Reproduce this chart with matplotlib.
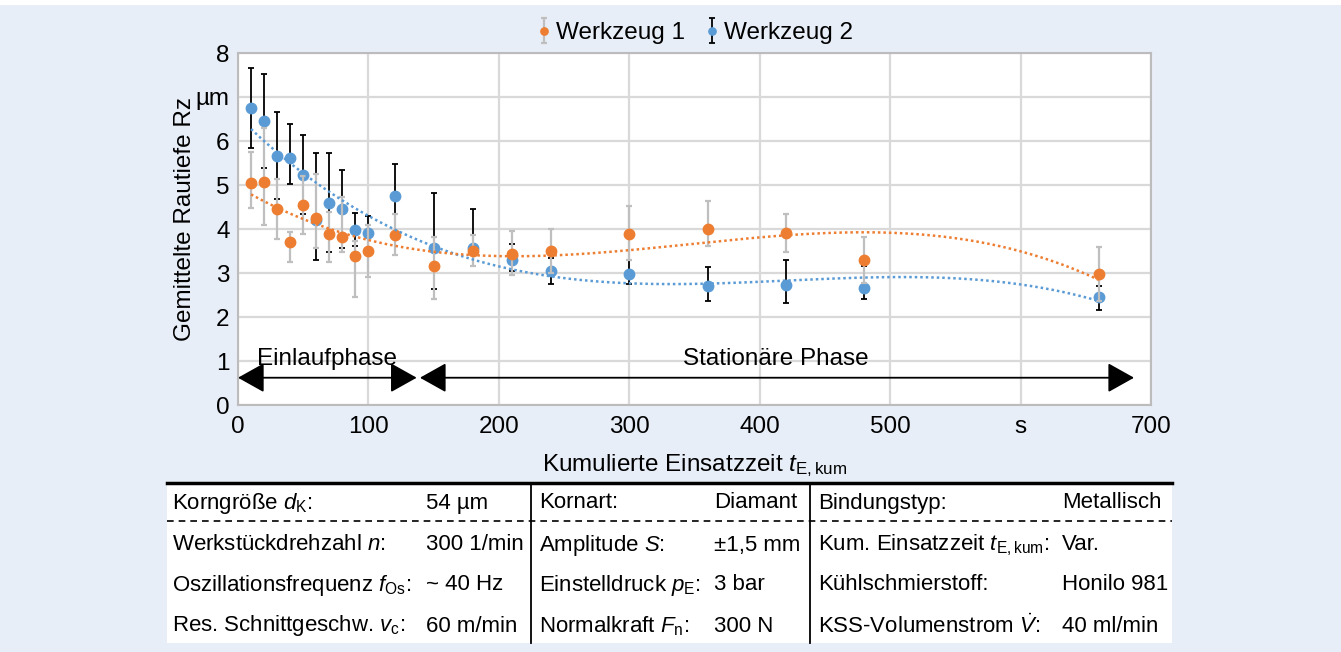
import numpy as np
import matplotlib
matplotlib.use("Agg")
import matplotlib.pyplot as plt
from matplotlib.patches import Rectangle
from matplotlib.lines import Line2D
from matplotlib import font_manager

names = {f.name for f in font_manager.fontManager.ttflist}
NARROW = 'Liberation Sans Narrow' in names
FONT = 'Liberation Sans Narrow' if NARROW else 'Liberation Sans'
SC = 1.0 / 0.82 if NARROW else 1.0

plt.rcParams['font.family'] = [FONT, 'DejaVu Sans']
plt.rcParams['mathtext.fontset'] = 'custom'
plt.rcParams['mathtext.rm'] = FONT
plt.rcParams['mathtext.it'] = FONT + ':italic'
plt.rcParams['mathtext.bf'] = FONT + ':bold'

# ---------------- data ----------------
t_kum = [10, 20, 30, 40, 50, 60, 70, 80, 90, 100, 120, 150, 180, 210, 240, 300, 360, 420, 480, 660]

w1_mean = [5.04, 5.07, 4.46, 3.70, 4.55, 4.24, 3.88, 3.82, 3.39, 3.50, 3.87, 3.17, 3.49, 3.44, 3.50, 3.89, 4.00, 3.92, 3.30, 2.98]
w1_high = [5.75, 6.29, 5.13, 3.94, 5.20, 5.26, 4.38, 4.72, 3.73, 4.08, 4.33, 3.81, 3.86, 3.96, 4.01, 4.52, 4.64, 4.35, 3.82, 3.60]
w1_low  = [4.48, 4.10, 3.77, 3.25, 3.89, 3.56, 3.24, 3.47, 2.45, 2.92, 3.41, 2.42, 3.15, 2.95, 3.00, 3.29, 3.62, 3.48, 2.78, 2.36]

w2_mean = [6.76, 6.46, 5.67, 5.61, 5.23, 4.20, 4.60, 4.46, 3.98, 3.90, 4.74, 3.57, 3.57, 3.29, 3.04, 2.98, 2.71, 2.73, 2.66, 2.45]
w2_high = [7.66, 7.53, 6.67, 6.38, 6.13, 5.73, 5.73, 5.35, 4.37, 4.29, 5.47, 4.81, 4.46, 3.66, 3.34, 3.29, 3.13, 3.30, 3.15, 2.70]
w2_low  = [5.84, 5.39, 4.69, 5.03, 4.33, 3.30, 3.47, 3.57, 3.62, 3.51, 4.33, 2.63, 3.15, 3.05, 2.74, 2.74, 2.36, 2.32, 2.42, 2.17]

x_ticks = [0, 100, 200, 300, 400, 500, 600, 700]
x_ticklabels = ['0', '100', '200', '300', '400', '500', 's', '700']
y_ticks = [0, 1, 2, 3, 4, 5, 6, 7, 8]
y_ticklabels = ['0', '1', '2', '3', '4', '5', '6', 'µm', '8']

series_names = ['Werkzeug 1', 'Werkzeug 2']

table_rows = [
    [r'Korngröße $d_\mathrm{K}$:', '54 µm', 'Kornart:', 'Diamant', 'Bindungstyp:', 'Metallisch'],
    [r'Werkstückdrehzahl $n$:', '300 1/min', r'Amplitude $S$:', '±1,5 mm', r'Kum. Einsatzzeit $t_\mathrm{E,kum}$:', 'Var.'],
    [r'Oszillationsfrequenz $f_\mathrm{Os}$:', '~ 40 Hz', r'Einstelldruck $p_\mathrm{E}$:', '3 bar', 'Kühlschmierstoff:', 'Honilo 981'],
    [r'Res. Schnittgeschw. $v_\mathrm{c}$:', '60 m/min', r'Normalkraft $F_\mathrm{n}$:', '300 N', r'KSS-Volumenstrom $\dot{V}$:', '40 ml/min'],
]

# ---------------- figure ----------------
W, H = 1341, 652
BG = '#e8eef8'
fig = plt.figure(figsize=(W / 100, H / 100), dpi=100, facecolor=BG)
fig.patches.append(Rectangle((0, 1 - 5 / H), 1, 5 / H, transform=fig.transFigure,
                             facecolor='white', edgecolor='none', zorder=-5))

def fx(px):
    return px / W

def fy(py):
    return 1 - py / H

FS = 17.5 * SC       # chart font size
FT = 16.0 * SC       # table font size

ax = fig.add_axes([fx(238), fy(405), (1151 - 238) / W, (405 - 53) / H])
ax.set_facecolor('white')
ax.set_xlim(0, 700)
ax.set_ylim(0, 8)
ax.set_xticks(x_ticks)
ax.set_xticklabels(x_ticklabels)
ax.set_yticks(y_ticks)
ax.set_yticklabels(y_ticklabels)
ax.tick_params(axis='both', length=0, labelsize=FS)
ax.tick_params(axis='x', pad=8)
ax.tick_params(axis='y', pad=6)
ax.grid(True, color='#d9d9d9', lw=1.6, zorder=0)
ax.set_axisbelow(True)
for s in ['left', 'bottom', 'right', 'top']:
    ax.spines[s].set_color('#bcbcbc')
    ax.spines[s].set_linewidth(1.5)

orange = '#ED7D31'
blue = '#5B9BD5'

tx = np.array(t_kum, dtype=float)
m1 = np.array(w1_mean); m2 = np.array(w2_mean)
e1 = [m1 - np.array(w1_low), np.array(w1_high) - m1]
e2 = [m2 - np.array(w2_low), np.array(w2_high) - m2]

eb2 = ax.errorbar(tx, m2, yerr=e2, fmt='o', color=blue, ms=7.5, ecolor='black',
                  elinewidth=1.3, capsize=2.5, capthick=1.3, zorder=3, label=series_names[1])
eb1 = ax.errorbar(tx, m1, yerr=e1, fmt='o', color=orange, ms=7.5, ecolor='#bfbfbf',
                  elinewidth=1.6, capsize=2.5, capthick=1.6, zorder=4, label=series_names[0])

xs = np.linspace(tx.min(), tx.max(), 300)
p1 = np.polyfit(tx, m1, 3)
p2 = np.polyfit(tx, m2, 3)
ax.plot(xs, np.polyval(p2, xs), color=blue, lw=1.8, ls=(0, (1, 1.2)), zorder=5)
ax.plot(xs, np.polyval(p1, xs), color=orange, lw=1.8, ls=(0, (1, 1.2)), zorder=5)

# phase arrows
astyle = dict(arrowstyle='<|-|>,head_length=0.75,head_width=0.42', mutation_scale=22,
              lw=1.3, color='black', shrinkA=0, shrinkB=0)
ax.annotate('', xy=(137, 0.62), xytext=(0, 0.62), arrowprops=astyle, zorder=6)
ax.annotate('', xy=(687, 0.62), xytext=(139.5, 0.62), arrowprops=astyle, zorder=6)
ax.text(68, 1.05, 'Einlaufphase', ha='center', va='center', fontsize=FS, zorder=6)
ax.text(412, 1.05, 'Stationäre Phase', ha='center', va='center', fontsize=FS, zorder=6)

# axis labels
fig.text(fx(185), fy(219), 'Gemittelte Rautiefe Rz', rotation=90, ha='center', va='center', fontsize=FS)
fig.text(fx(695), fy(466), r'Kumulierte Einsatzzeit $t_\mathrm{E,kum}$', ha='center', va='center', fontsize=FS)

# legend
leg = fig.legend([eb1, eb2], series_names, loc='center', bbox_to_anchor=(fx(695), fy(33)),
                 ncol=2, frameon=False, fontsize=FS, handlelength=0.6, handletextpad=0.2,
                 columnspacing=0.8, markerscale=0.7)

# ---------------- table ----------------
fig.patches.append(Rectangle((fx(167), fy(643)), (1172 - 167) / W, (643 - 483) / H,
                             transform=fig.transFigure, facecolor='white', edgecolor='none', zorder=-1))
fig.add_artist(Line2D([fx(167), fx(1172)], [fy(483), fy(483)], color='black', lw=2.5))
fig.add_artist(Line2D([fx(167), fx(1172)], [fy(521), fy(521)], color='black', lw=1.2, ls=(0, (4, 3))))
for vx in [531, 810]:
    fig.add_artist(Line2D([fx(vx), fx(vx)], [fy(483), fy(643)], color='black', lw=1.3))

col_x = [172, 426, 539, 714, 818, 1062]
row_y = [503, 545, 585, 626]
for r, row in enumerate(table_rows):
    for c, txt in enumerate(row):
        fig.text(fx(col_x[c]), fy(row_y[r]), txt, ha='left', va='center', fontsize=FT)

fig.savefig('out.png', dpi=100, facecolor=BG)
